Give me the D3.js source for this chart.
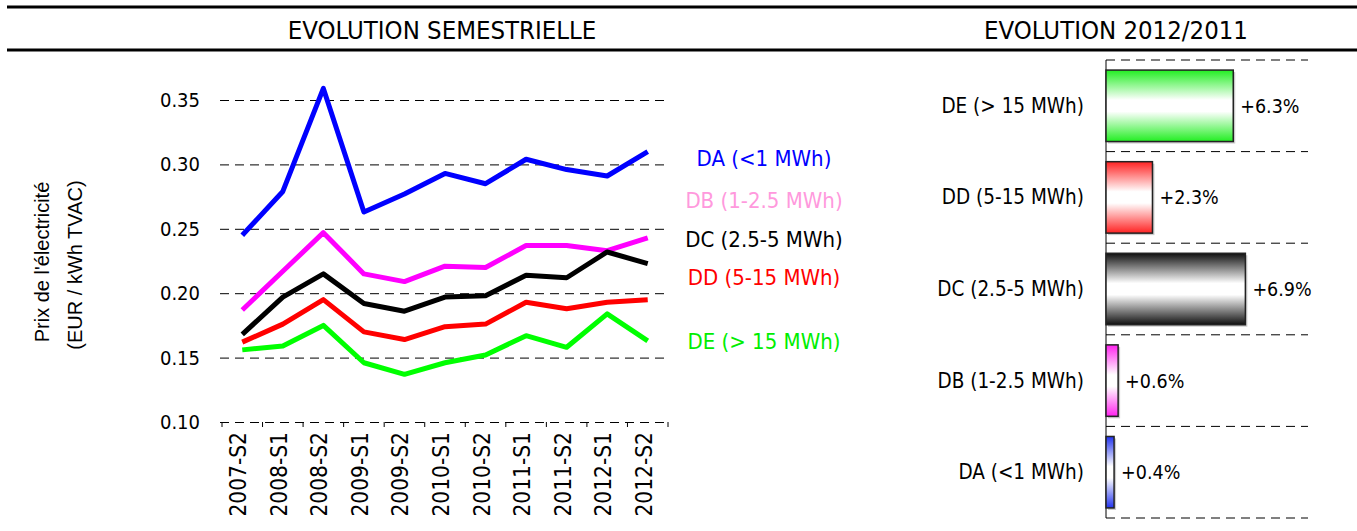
<!DOCTYPE html>
<html>
<head>
<meta charset="utf-8">
<title>Prix de l'électricité</title>
<script src="https://cdn.jsdelivr.net/npm/d3@7"></script>
<style>
  body { margin: 0; background: #fff; }
  svg text { font-family: "DejaVu Sans Condensed", "DejaVu Sans", sans-serif; font-stretch: condensed; }
  .grid line { stroke: #000; stroke-dasharray: 9 6; }
  .grid path { display: none; }
  .ytitle { font-family: "Liberation Sans", Arial, sans-serif !important; font-stretch: normal !important; }
</style>
</head>
<body>
<svg id="chart" width="1357" height="531"></svg>
<script>
// data
var categories = ["2007-S2","2008-S1","2008-S2","2009-S1","2009-S2","2010-S1","2010-S2","2011-S1","2011-S2","2012-S1","2012-S2"];
var seriesNames = ["DA (<1 MWh)","DB (1-2.5 MWh)","DC (2.5-5 MWh)","DD (5-15 MWh)","DE (> 15 MWh)"];
var da = [0.245,0.279,0.359,0.263,0.277,0.293,0.285,0.304,0.296,0.291,0.310];
var db = [0.187,0.217,0.247,0.215,0.209,0.221,0.220,0.237,0.237,0.233,0.243];
var dc = [0.168,0.197,0.215,0.192,0.186,0.197,0.198,0.214,0.212,0.232,0.223];
var dd = [0.162,0.176,0.195,0.170,0.164,0.174,0.176,0.193,0.188,0.193,0.195];
var de = [0.156,0.159,0.175,0.146,0.137,0.146,0.152,0.167,0.158,0.184,0.163];
var evolution = [0.4,0.6,6.9,2.3,6.3]; // % 2012/2011, same order as seriesNames
var yTicks = [0.10,0.15,0.20,0.25,0.30,0.35];

var lineColors = ["#0000ff","#ff00ff","#000000","#ff0000","#00ff00"];
var labelColors = ["#0000ff","#ff99dd","#000000","#ff0000","#00ee00"];
var barColors = ["#2233ee","#ff22ee","#111111","#ff2222","#22ee22"];
var labelY = [158,200,239,277,341];

var svg = d3.select("#chart");
var allSeries = [da, db, dc, dd, de];

// header
[7, 50].forEach(function(y) {
  svg.append("line").attr("x1", 7).attr("x2", 1357).attr("y1", y).attr("y2", y)
    .attr("stroke", "#000").attr("stroke-width", 3);
});
svg.append("text").attr("x", 442).attr("y", 39).attr("text-anchor", "middle")
  .style("font-size", "25.5px").text("EVOLUTION SEMESTRIELLE");
svg.append("text").attr("x", 1116).attr("y", 39).attr("text-anchor", "middle")
  .style("font-size", "25.5px").text("EVOLUTION 2012/2011");

// left: line chart
var x = d3.scaleBand().domain(categories).range([222, 668]);
var y = d3.scaleLinear().domain([0.10, 0.35]).range([422, 100]);

svg.append("g").attr("class", "grid")
  .attr("transform", "translate(220,0)")
  .call(d3.axisLeft(y).tickValues(yTicks).tickFormat(d3.format(".2f"))
    .tickSize(-448).tickPadding(20))
  .call(function(g) {
    g.selectAll("text").style("font-size", "20px")
      .style("font-family", "'DejaVu Sans Condensed','DejaVu Sans',sans-serif");
  });

// x band boundary ticks
var bounds = categories.map(function(c) { return x(c); }).concat([x.range()[1]]);
svg.append("g").selectAll("line").data(bounds).enter().append("line")
  .attr("x1", function(d) { return d; }).attr("x2", function(d) { return d; })
  .attr("y1", y(0.10)).attr("y2", y(0.10) + 5)
  .attr("stroke", "#000");

svg.append("g").selectAll("text").data(categories).enter().append("text")
  .attr("transform", function(d) { return "translate(" + (x(d) + x.bandwidth() / 2 + 4) + ",432) rotate(-90)"; })
  .attr("text-anchor", "end")
  .style("font-size", "22.5px")
  .text(function(d) { return d; });

var line = d3.line()
  .x(function(d, i) { return x(categories[i]) + x.bandwidth() / 2; })
  .y(function(d) { return y(d); });

svg.append("g").selectAll("path").data(allSeries).enter().append("path")
  .attr("d", line)
  .attr("fill", "none")
  .attr("stroke", function(d, i) { return lineColors[i]; })
  .attr("stroke-width", 5)
  .attr("stroke-linejoin", "round");

svg.append("g").selectAll("text").data(seriesNames).enter().append("text")
  .attr("x", 764).attr("y", function(d, i) { return labelY[i] + 8; })
  .attr("text-anchor", "middle")
  .attr("fill", function(d, i) { return labelColors[i]; })
  .style("font-size", "22px")
  .text(function(d) { return d; });

// y title
svg.append("text").attr("class", "ytitle")
  .attr("transform", "translate(49,262) rotate(-90)")
  .attr("text-anchor", "middle").style("font-size", "20px")
  .text("Prix de l'électricité");
svg.append("text").attr("class", "ytitle")
  .attr("transform", "translate(82,265) rotate(-90)")
  .attr("text-anchor", "middle").style("font-size", "20px")
  .text("(EUR / kWh TVAC)");

// right: bar chart
var barOrder = seriesNames.slice().reverse();
var by = d3.scaleBand().domain(barOrder).range([60, 518]).paddingInner(0.22).paddingOuter(0.11);
var bx = d3.scaleLinear().domain([0, 10]).range([1106, 1308]);

var defs = svg.append("defs");
seriesNames.forEach(function(n, i) {
  var g = defs.append("linearGradient").attr("id", "grad" + i)
    .attr("x1", 0).attr("x2", 0).attr("y1", 0).attr("y2", 1);
  g.append("stop").attr("offset", "0%").attr("stop-color", barColors[i]);
  g.append("stop").attr("offset", "42%").attr("stop-color", "#fff");
  g.append("stop").attr("offset", "58%").attr("stop-color", "#fff");
  g.append("stop").attr("offset", "100%").attr("stop-color", barColors[i]);
});

var step = by.step();
var gridY = barOrder.map(function(n) { return by(n) - step * by.paddingInner() / 2; })
  .concat([by.range()[1]]);
svg.append("g").selectAll("line").data(gridY).enter().append("line")
  .attr("x1", bx(0)).attr("x2", bx(10))
  .attr("y1", function(d) { return d; }).attr("y2", function(d) { return d; })
  .attr("stroke", "#000").attr("stroke-dasharray", "9 6");

svg.append("line").attr("x1", bx(0)).attr("x2", bx(0))
  .attr("y1", by.range()[0]).attr("y2", by.range()[1]).attr("stroke", "#000");

var bars = svg.append("g").selectAll("g").data(seriesNames).enter().append("g");
bars.append("rect")
  .attr("x", bx(0) + 2).attr("y", function(d) { return by(d) + 2; })
  .attr("width", function(d, i) { return bx(evolution[i]) - bx(0); })
  .attr("height", by.bandwidth())
  .attr("fill", "#ccc");
bars.append("rect")
  .attr("x", bx(0)).attr("y", function(d) { return by(d); })
  .attr("width", function(d, i) { return bx(evolution[i]) - bx(0); })
  .attr("height", by.bandwidth())
  .attr("fill", function(d, i) { return "url(#grad" + i + ")"; })
  .attr("stroke", "#222").attr("stroke-width", 1.5);
bars.append("text")
  .attr("x", function(d, i) { return bx(evolution[i]) + 7; })
  .attr("y", function(d) { return by(d) + by.bandwidth() / 2 + 7; })
  .style("font-size", "19.5px")
  .text(function(d, i) { return "+" + evolution[i].toFixed(1) + "%"; });
bars.append("text")
  .attr("x", 1084)
  .attr("y", function(d) { return by(d) + by.bandwidth() / 2 + 7; })
  .attr("text-anchor", "end")
  .style("font-size", "20.5px")
  .text(function(d) { return d; });
</script>
</body>
</html>
